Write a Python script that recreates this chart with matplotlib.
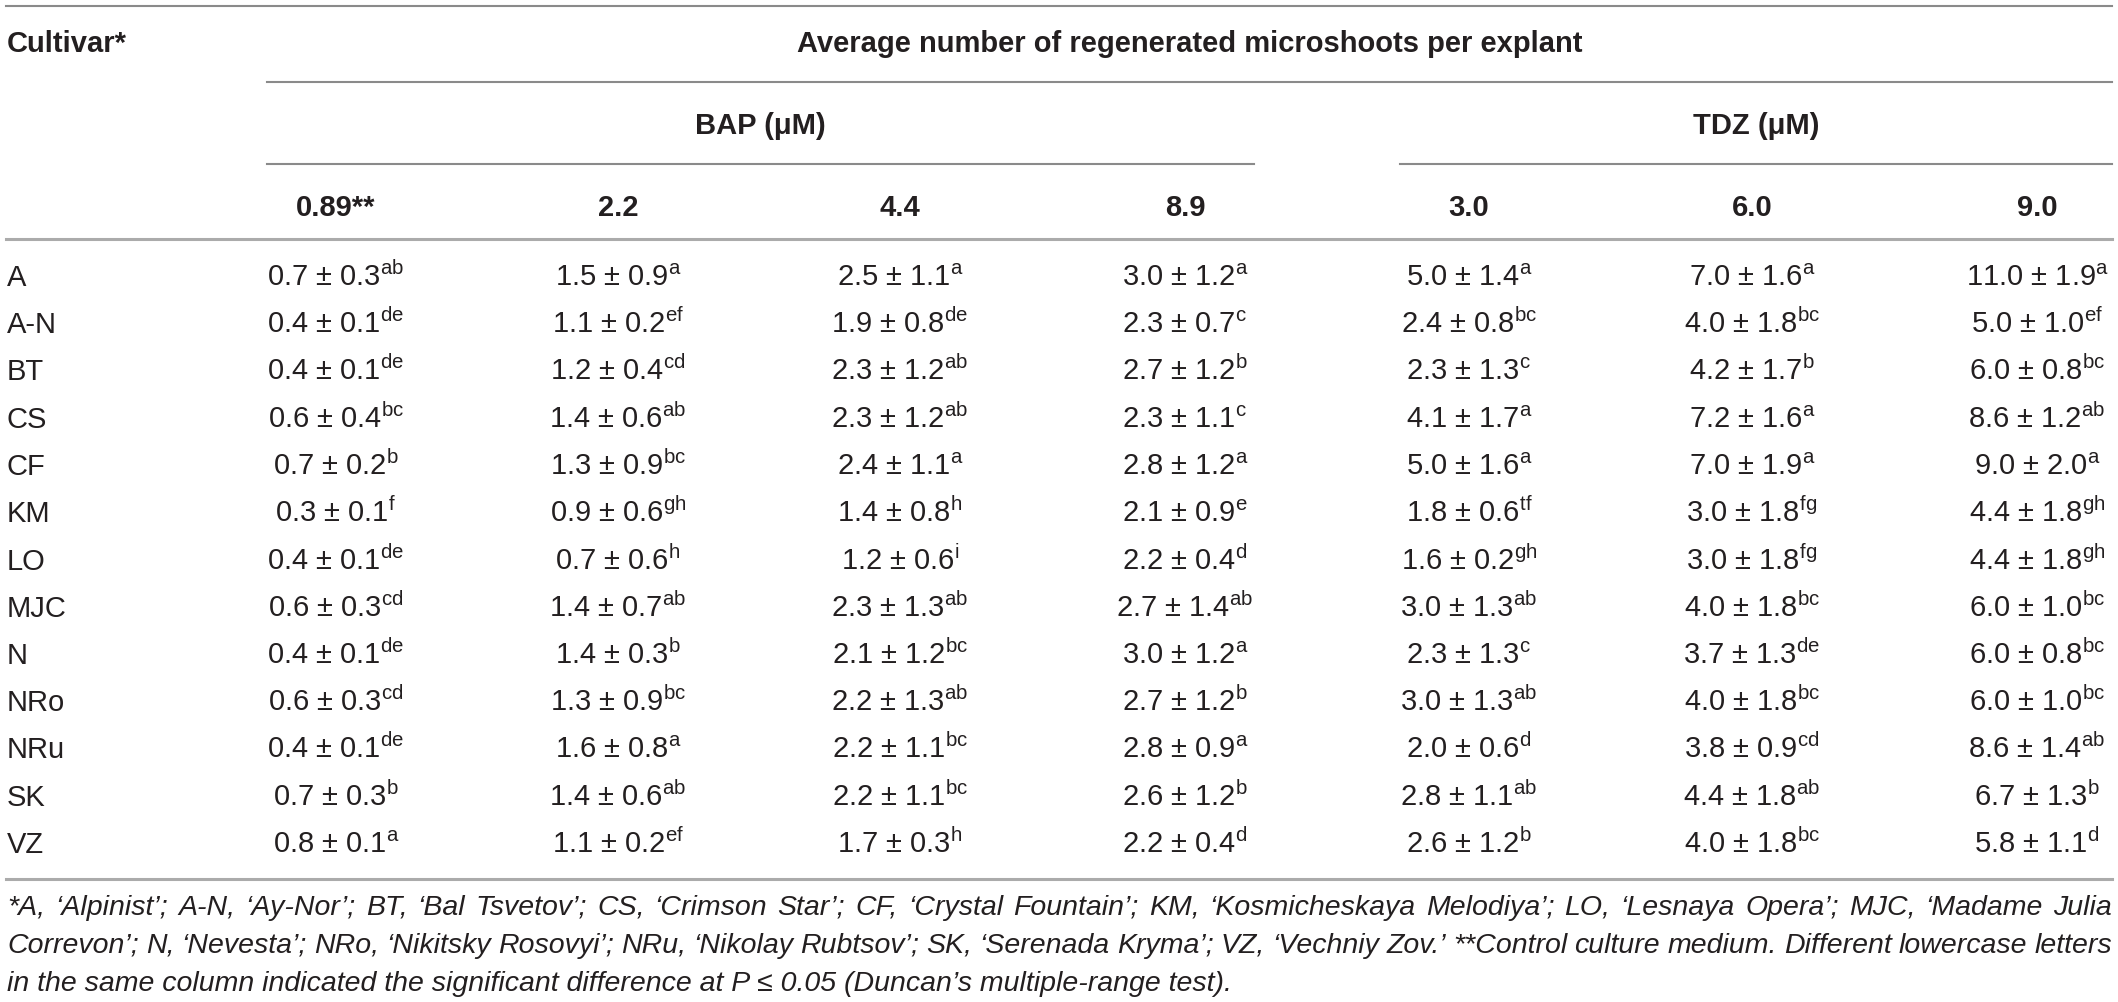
import matplotlib
matplotlib.use("Agg")
import matplotlib.pyplot as plt

plt.rcParams['font.family'] = ['Liberation Sans', 'DejaVu Sans']
plt.rcParams['mathtext.fontset'] = 'custom'
plt.rcParams['mathtext.rm'] = 'Liberation Sans'
plt.rcParams['mathtext.it'] = 'Liberation Sans:italic'

# cultivars (rows)
cultivars = ["A", "A-N", "BT", "CS", "CF", "KM", "LO", "MJC", "N", "NRo", "NRu", "SK", "VZ"]

# column headers
bap_levels = ["0.89**", "2.2", "4.4", "8.9"]
tdz_levels = ["3.0", "6.0", "9.0"]

# BAP 0.89 uM (control)
bap089_mean = [0.7, 0.4, 0.4, 0.6, 0.7, 0.3, 0.4, 0.6, 0.4, 0.6, 0.4, 0.7, 0.8]
bap089_sd = [0.3, 0.1, 0.1, 0.4, 0.2, 0.1, 0.1, 0.3, 0.1, 0.3, 0.1, 0.3, 0.1]
bap089_let = ["ab", "de", "de", "bc", "b", "f", "de", "cd", "de", "cd", "de", "b", "a"]

# BAP 2.2 uM
bap22_mean = [1.5, 1.1, 1.2, 1.4, 1.3, 0.9, 0.7, 1.4, 1.4, 1.3, 1.6, 1.4, 1.1]
bap22_sd = [0.9, 0.2, 0.4, 0.6, 0.9, 0.6, 0.6, 0.7, 0.3, 0.9, 0.8, 0.6, 0.2]
bap22_let = ["a", "ef", "cd", "ab", "bc", "gh", "h", "ab", "b", "bc", "a", "ab", "ef"]

# BAP 4.4 uM
bap44_mean = [2.5, 1.9, 2.3, 2.3, 2.4, 1.4, 1.2, 2.3, 2.1, 2.2, 2.2, 2.2, 1.7]
bap44_sd = [1.1, 0.8, 1.2, 1.2, 1.1, 0.8, 0.6, 1.3, 1.2, 1.3, 1.1, 1.1, 0.3]
bap44_let = ["a", "de", "ab", "ab", "a", "h", "i", "ab", "bc", "ab", "bc", "bc", "h"]

# BAP 8.9 uM
bap89_mean = [3.0, 2.3, 2.7, 2.3, 2.8, 2.1, 2.2, 2.7, 3.0, 2.7, 2.8, 2.6, 2.2]
bap89_sd = [1.2, 0.7, 1.2, 1.1, 1.2, 0.9, 0.4, 1.4, 1.2, 1.2, 0.9, 1.2, 0.4]
bap89_let = ["a", "c", "b", "c", "a", "e", "d", "ab", "a", "b", "a", "b", "d"]

# TDZ 3.0 uM
tdz30_mean = [5.0, 2.4, 2.3, 4.1, 5.0, 1.8, 1.6, 3.0, 2.3, 3.0, 2.0, 2.8, 2.6]
tdz30_sd = [1.4, 0.8, 1.3, 1.7, 1.6, 0.6, 0.2, 1.3, 1.3, 1.3, 0.6, 1.1, 1.2]
tdz30_let = ["a", "bc", "c", "a", "a", "tf", "gh", "ab", "c", "ab", "d", "ab", "b"]

# TDZ 6.0 uM
tdz60_mean = [7.0, 4.0, 4.2, 7.2, 7.0, 3.0, 3.0, 4.0, 3.7, 4.0, 3.8, 4.4, 4.0]
tdz60_sd = [1.6, 1.8, 1.7, 1.6, 1.9, 1.8, 1.8, 1.8, 1.3, 1.8, 0.9, 1.8, 1.8]
tdz60_let = ["a", "bc", "b", "a", "a", "fg", "fg", "bc", "de", "bc", "cd", "ab", "bc"]

# TDZ 9.0 uM
tdz90_mean = [11.0, 5.0, 6.0, 8.6, 9.0, 4.4, 4.4, 6.0, 6.0, 6.0, 8.6, 6.7, 5.8]
tdz90_sd = [1.9, 1.0, 0.8, 1.2, 2.0, 1.8, 1.8, 1.0, 0.8, 1.0, 1.4, 1.3, 1.1]
tdz90_let = ["a", "ef", "bc", "ab", "a", "gh", "gh", "bc", "bc", "bc", "ab", "b", "d"]

footnote = [
    "*A, \u2018Alpinist\u2019; A-N, \u2018Ay-Nor\u2019; BT, \u2018Bal Tsvetov\u2019; CS, \u2018Crimson Star\u2019; "
    "CF, \u2018Crystal Fountain\u2019; KM, \u2018Kosmicheskaya Melodiya\u2019; LO, \u2018Lesnaya Opera\u2019; MJC, \u2018Madame Julia",
    "Correvon\u2019; N, \u2018Nevesta\u2019; NRo, \u2018Nikitsky Rosovyi\u2019; NRu, \u2018Nikolay Rubtsov\u2019; "
    "SK, \u2018Serenada Kryma\u2019; VZ, \u2018Vechniy Zov.\u2019 **Control culture medium. Different lowercase letters",
    "in the same column indicated the significant difference at P \u2264 0.05 (Duncan\u2019s multiple-range test).",
]

columns = [
    (bap089_mean, bap089_sd, bap089_let),
    (bap22_mean, bap22_sd, bap22_let),
    (bap44_mean, bap44_sd, bap44_let),
    (bap89_mean, bap89_sd, bap89_let),
    (tdz30_mean, tdz30_sd, tdz30_let),
    (tdz60_mean, tdz60_sd, tdz60_let),
    (tdz90_mean, tdz90_sd, tdz90_let),
]

W, H = 2118, 1002
fig = plt.figure(figsize=(W / 100, H / 100), dpi=100)
ax = fig.add_axes([0, 0, 1, 1])
ax.set_xlim(0, W)
ax.set_ylim(H, 0)
ax.axis('off')

txt_color = '#231f20'
fs = 21
foot_fs = 20.5
col_x = [336, 618, 900, 1185, 1469, 1752, 2037]
row0, row_step = 286, 47.25

# rules
ax.plot([6, 2112], [6, 6], color='#8a8a8a', lw=1.5)
ax.plot([267, 2112], [82, 82], color='#8a8a8a', lw=1.5)
ax.plot([267, 1254], [164, 164], color='#8a8a8a', lw=1.5)
ax.plot([1400, 2112], [164, 164], color='#8a8a8a', lw=1.5)
ax.plot([6, 2112], [239, 239], color='#ababab', lw=2.2)
ax.plot([6, 2112], [879, 879], color='#ababab', lw=2.2)

# header
ax.text(7, 52, "Cultivar*", fontsize=fs, fontweight='bold', color=txt_color, va='baseline')
ax.text(1190, 52, "Average number of regenerated microshoots per explant", fontsize=fs,
        fontweight='bold', color=txt_color, va='baseline', ha='center')
ax.text(760, 134, "BAP (\u03bcM)", fontsize=fs, fontweight='bold', color=txt_color, va='baseline', ha='center')
ax.text(1756, 134, "TDZ (\u03bcM)", fontsize=fs, fontweight='bold', color=txt_color, va='baseline', ha='center')
for x, lab in zip(col_x, bap_levels + tdz_levels):
    ax.text(x, 216, lab, fontsize=fs, fontweight='bold', color=txt_color, va='baseline', ha='center')

# body
for i, name in enumerate(cultivars):
    y = row0 + i * row_step
    ax.text(7, y, name, fontsize=fs, color=txt_color, va='baseline')
    for x, (m, s, let) in zip(col_x, columns):
        label = f"{m[i]:.1f} \u00b1 {s[i]:.1f}" + r"$^{\mathrm{" + let[i] + "}}$"
        ax.text(x, y, label, fontsize=fs, color=txt_color, va='baseline', ha='center')

# footnote, first two lines justified
fig.canvas.draw()
renderer = fig.canvas.get_renderer()
foot_y = [915, 953, 991]
for k, line in enumerate(footnote):
    if k < 2:
        words = line.split(' ')
        objs = [ax.text(0, foot_y[k], w, fontsize=foot_fs, style='italic', color=txt_color, va='baseline')
                for w in words]
        widths = [o.get_window_extent(renderer).width for o in objs]
        gap = (2112 - 7 - sum(widths)) / (len(words) - 1)
        x = 7
        for o, w in zip(objs, widths):
            o.set_x(x)
            x += w + gap
    else:
        ax.text(7, foot_y[k], line, fontsize=foot_fs, style='italic', color=txt_color, va='baseline')

fig.savefig("out.png", dpi=100)
